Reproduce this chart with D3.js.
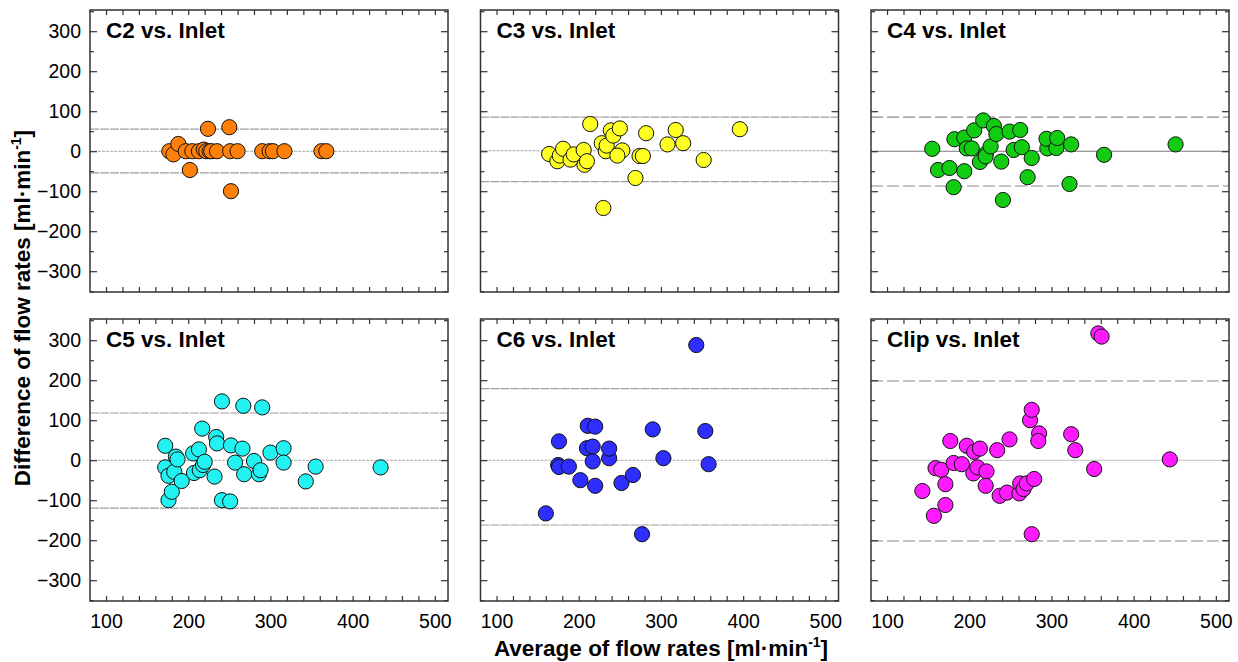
<!DOCTYPE html>
<html>
<head>
<meta charset="utf-8">
<script src="https://cdn.jsdelivr.net/npm/d3@7"></script>
<style>
  body { margin: 0; background: #fff; }
  svg { display: block; font-family: "Liberation Sans", Arial, Helvetica, sans-serif; }
  .tick text { font-size: 19.5px; fill: #000; }
  .title { font-size: 22.5px; font-weight: bold; }
  .axlabel { font-size: 22.5px; font-weight: bold; }
</style>
</head>
<body>
<svg id="chart" width="1238" height="662"></svg>
<script>
// panel names and marker colours
var panelNames = ["C2 vs. Inlet", "C3 vs. Inlet", "C4 vs. Inlet", "C5 vs. Inlet", "C6 vs. Inlet", "Clip vs. Inlet"];
var panelColors = ["#ff8008", "#ffff22", "#11cc11", "#22f2f2", "#2e2eff", "#ff1aff"];

// mean difference and limits of agreement [lower, mean, upper]
var limits = [
    [-54, 0, 55],
    [-76, 1, 85],
    [-87, 0, 85],
    [-120, 0, 118],
    [-162, 0, 179],
    [-202, 0, 198]
];

var xTicks = [100, 200, 300, 400, 500];
var yTicks = [-300, -200, -100, 0, 100, 200, 300];

// [average, difference] per panel
var c2 = [[177,0],[182,-8],[188,18],[197,0],[205,0],[202,-47],[213,0],[219,4],[222,0],[224,56],
    [226,0],[228,0],[235,0],[250,60],[251,0],[252,-100],[260,0],[290,0],[299,0],[303,0],[317,0],[362,0],[368,0]];
var c3 = [[164,-7],[174,-25],[177,-11],[181,6],[190,-21],[194,-8],[206,3],[207,-34],[210,-25],[214,68],
    [228,20],[233,0],[234,14],[239,52],[242,39],[250,57],[253,2],[247,-11],[230,-142],[269,-67],
    [274,-12],[278,-12],[282,45],[308,17],[318,53],[327,20],[352,-22],[396,55]];
var c4 = [[155,6],[162,-47],[176,-42],[182,30],[181,-90],[194,-50],[194,34],[197,7],[203,7],[206,52],
    [213,-27],[217,77],[220,-7],[220,-13],[226,12],[230,63],[233,43],[239,-26],[241,-122],[249,49],
    [254,3],[262,53],[264,10],[271,-65],[276,-17],[295,7],[294,31],[306,8],[307,33],[324,17],
    [322,-82],[364,-9],[451,17]];
var c5 = [[172,36],[172,-18],[176,-39],[176,-100],[180,-79],[183,-29],[185,9],[187,2],[192,-52],[206,17],
    [207,-32],[213,27],[214,-25],[218,-12],[220,-4],[217,79],[232,-41],[234,58],[235,42],[241,147],
    [241,-100],[251,-103],[252,37],[257,-6],[266,29],[268,-35],[267,136],[280,-2],[286,-35],[288,-25],
    [290,132],[300,19],[316,30],[316,-6],[343,-53],[355,-16],[434,-18]];
var c6 = [[160,-133],[176,47],[175,-12],[176,-17],[188,-16],[202,-50],[211,86],[220,84],[210,30],[217,34],
    [217,-3],[220,-64],[237,5],[237,29],[252,-57],[266,-37],[277,-185],[290,77],[303,5],[343,288],
    [354,73],[358,-10]];
var clip = [[143,-77],[157,-139],[159,-20],[166,-24],[171,-112],[171,-60],[177,48],[181,-7],[191,-10],[197,36],
    [205,-33],[206,21],[210,-18],[213,29],[221,-28],[220,-64],[234,25],[237,-89],[246,-81],[249,52],
    [261,-83],[262,-58],[266,-72],[270,-58],[279,-47],[274,100],[276,126],[276,-185],[285,67],[284,48],
    [324,65],[329,25],[352,-22],[357,317],[361,309],[444,2]];
var panelData = [c2, c3, c4, c5, c6, clip];

// line styles per panel: [limit dash, mean dash, limit colour, mean colour]
var lineStyles = [
    ["9,1", "3,1", "#a0a0a0", "#a8a8a8"],
    ["9,1", "3,1", "#a0a0a0", "#a8a8a8"],
    ["12,4", null, "#8a8a8a", "#777"],
    ["9,1", "3,1", "#a0a0a0", "#a8a8a8"],
    ["9,1", "3,1", "#a0a0a0", "#a8a8a8"],
    ["12,4", null, "#8a8a8a", "#c0c0c0"]
];

var svg = d3.select("#chart");
var pw = 358, ph = 282;
var lefts = [90, 480.5, 871], tops = [10, 319];

var x = d3.scaleLinear().domain([80.5, 516]).range([0, pw]);
var y = d3.scaleLinear().domain([-352, 353]).range([ph, 0]);

panelData.forEach(function(data, i) {
    var col = i % 3, row = Math.floor(i / 3);
    var g = svg.append("g").attr("transform", "translate(" + lefts[col] + "," + tops[row] + ")");
    var st = lineStyles[i];

    g.append("rect").attr("width", pw).attr("height", ph).attr("fill", "#fff");

    // limits of agreement and mean
    var lim = limits[i];
    [lim[0], lim[2]].forEach(function(v) {
        g.append("line").attr("x1", 0).attr("x2", pw).attr("y1", y(v)).attr("y2", y(v))
            .attr("stroke", st[2]).attr("stroke-width", 1.2)
            .attr("stroke-dasharray", st[0]);
    });
    g.append("line").attr("x1", 0).attr("x2", pw).attr("y1", y(lim[1])).attr("y2", y(lim[1]))
        .attr("stroke", st[3]).attr("stroke-width", 1.1)
        .attr("stroke-dasharray", st[1]);

    // axes with inward ticks on all sides
    var minorX = d3.range(100, 520, 20);
    var minorY = d3.range(-350, 351, 50);

    var bottom = g.append("g").attr("transform", "translate(0," + ph + ")");
    bottom.call(d3.axisBottom(x).tickValues(minorX).tickSize(-5).tickFormat(""));
    var top = g.append("g");
    top.call(d3.axisTop(x).tickValues(minorX).tickSize(-5).tickFormat(""));

    var left = g.append("g");
    left.call(d3.axisLeft(y).tickValues(minorY).tickSizeInner(-4).tickSizeOuter(0).tickFormat(""));
    left.selectAll(".tick line").attr("x2", function(d) { return d % 100 === 0 ? 7 : 4; });
    var right = g.append("g").attr("transform", "translate(" + pw + ",0)");
    right.call(d3.axisRight(y).tickValues(minorY).tickSizeInner(-4).tickSizeOuter(0).tickFormat(""));
    right.selectAll(".tick line").attr("x2", function(d) { return d % 100 === 0 ? -7 : -4; });

    [bottom, top, left, right].forEach(function(a) {
        a.select(".domain").remove();
        a.selectAll(".tick line").attr("stroke", "#333").attr("stroke-width", 1.2);
    });

    // tick labels
    if (col === 0) {
        var yl = g.append("g");
        yl.call(d3.axisLeft(y).tickValues(yTicks).tickSize(0).tickPadding(9));
        yl.select(".domain").remove();
    }
    if (row === 1) {
        var xl = g.append("g").attr("transform", "translate(0," + ph + ")");
        xl.call(d3.axisBottom(x).tickValues(xTicks).tickSize(0).tickPadding(10));
        xl.select(".domain").remove();
        xl.selectAll("text").attr("dy", "0.85em");
    }

    // points
    g.selectAll("circle").data(data).enter().append("circle")
        .attr("cx", function(d) { return x(d[0]); })
        .attr("cy", function(d) { return y(d[1]); })
        .attr("r", 7.6)
        .attr("fill", panelColors[i])
        .attr("stroke", "#111")
        .attr("stroke-width", 1);

    g.append("rect").attr("width", pw).attr("height", ph)
        .attr("fill", "none").attr("stroke", "#333").attr("stroke-width", 1.5);

    g.append("text").attr("class", "title").attr("x", 16).attr("y", 28).text(panelNames[i]);
});

// axis titles
svg.append("text").attr("class", "axlabel")
    .attr("transform", "translate(30,308) rotate(-90)")
    .attr("text-anchor", "middle")
    .html("Difference of flow rates [ml·min<tspan dy='-9' font-size='14'>-1</tspan><tspan dy='9'>]</tspan>");

svg.append("text").attr("class", "axlabel")
    .attr("x", 661).attr("y", 656)
    .attr("text-anchor", "middle")
    .html("Average of flow rates [ml·min<tspan dy='-9' font-size='14'>-1</tspan><tspan dy='9'>]</tspan>");
</script>
</body>
</html>
